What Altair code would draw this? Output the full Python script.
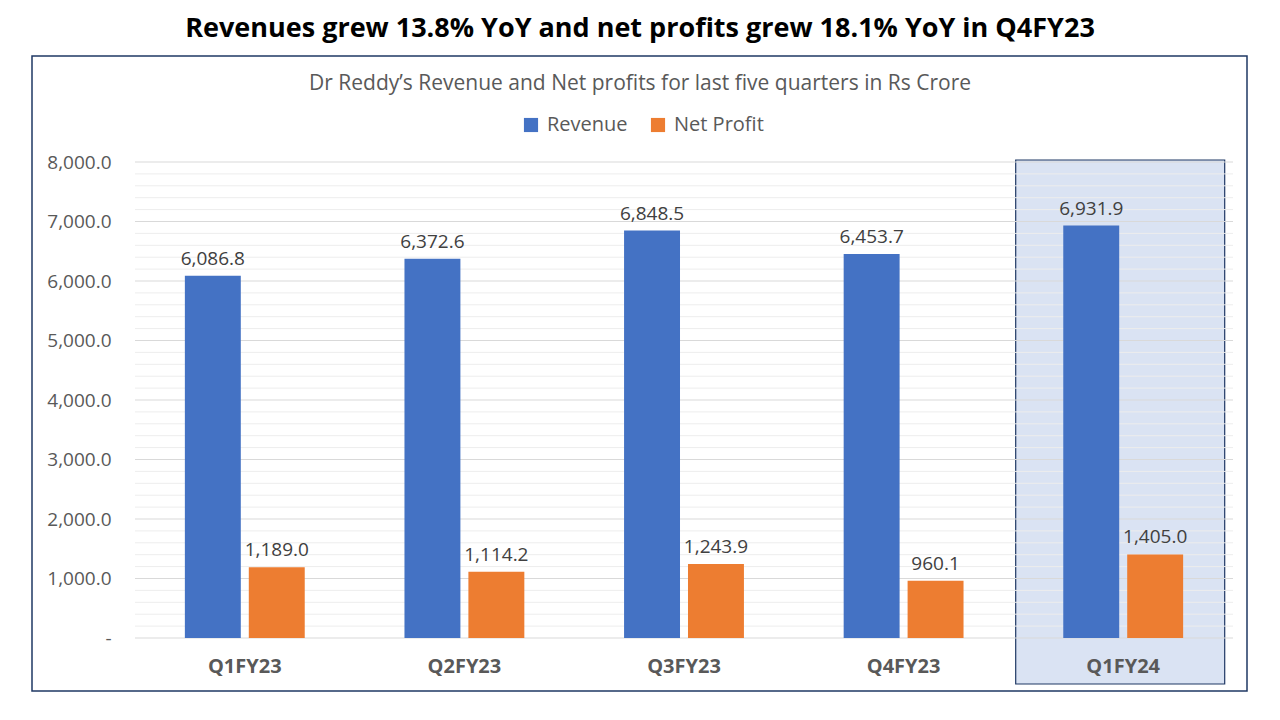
import altair as alt
import pandas as pd

quarters = ["Q1FY23", "Q2FY23", "Q3FY23", "Q4FY23", "Q1FY24"]
revenue = [6086.8, 6372.6, 6848.5, 6453.7, 6931.9]
net_profit = [1189.0, 1114.2, 1243.9, 960.1, 1405.0]
series = ["Revenue", "Net Profit"]
colors = ["#4472C4", "#ED7D31"]
major_ticks = [0, 1000, 2000, 3000, 4000, 5000, 6000, 7000, 8000]
minor_ticks = [200, 400, 600, 800, 1200, 1400, 1600, 1800, 2200, 2400, 2600, 2800,
               3200, 3400, 3600, 3800, 4200, 4400, 4600, 4800, 5200, 5400, 5600, 5800,
               6200, 6400, 6600, 6800, 7200, 7400, 7600, 7800]
highlight = ["Q1FY24"]

title_text = "Revenues grew 13.8% YoY and net profits grew 18.1% YoY in Q4FY23"
subtitle_text = "Dr Reddy\u2019s Revenue and Net profits for last five quarters in Rs Crore"

rows = []
for i, q in enumerate(quarters):
    rows.append({"q": q, "series": series[0], "value": revenue[i]})
    rows.append({"q": q, "series": series[1], "value": net_profit[i]})
df = pd.DataFrame(rows)

W, H = 1098, 476
FONT = "Open Sans"
GREY = "#595959"

xscale = alt.Scale(domain=quarters, paddingInner=0, paddingOuter=0)
yscale = alt.Scale(domain=[0, 8000], nice=False)
offscale = alt.Scale(domain=series, paddingInner=0.125, paddingOuter=0.78)

x_enc = alt.X("q:N", scale=xscale, sort=quarters,
              axis=alt.Axis(title=None, labelFontWeight="bold", labelFontSize=20,
                            labelColor=GREY, labelFont=FONT, labelPadding=18,
                            domain=False, ticks=False, grid=False, labelAngle=0,
                            zindex=2))

y_axis = alt.Axis(title=None, values=major_ticks, grid=False, domain=False,
                  ticks=False, labelFontSize=19, labelColor=GREY,
                  labelFont=FONT, labelPadding=24,
                  labelExpr="datum.value == 0 ? '-' : format(datum.value, ',.1f')")

# highlight box
box = alt.Chart(pd.DataFrame({"q": highlight})).mark_bar(
    width=209, xOffset=-3, fill="#DAE3F3", stroke="#1F3864", strokeWidth=1.2
).encode(x=x_enc, y=alt.value(-2), y2=alt.value(522))

minor = alt.Chart(pd.DataFrame({"v": minor_ticks})).mark_rule(
    color="#EDEDED", strokeWidth=1
).encode(y=alt.Y("v:Q", scale=yscale, axis=y_axis))

major = alt.Chart(pd.DataFrame({"v": major_ticks})).mark_rule(
    color="#D9D9D9", strokeWidth=1
).encode(y=alt.Y("v:Q", scale=yscale, axis=y_axis))

bars = alt.Chart(df).mark_bar().encode(
    x=x_enc,
    xOffset=alt.XOffset("series:N", scale=offscale, sort=series),
    y=alt.Y("value:Q", scale=yscale, axis=y_axis),
    color=alt.Color("series:N", sort=series,
                    scale=alt.Scale(domain=series, range=colors),
                    legend=alt.Legend(title=None, orient="none", legendX=386, legendY=-47,
                                      direction="horizontal", symbolType="square",
                                      symbolSize=200, symbolStrokeWidth=0,
                                      labelFontSize=20, labelColor=GREY, labelFont=FONT,
                                      labelOffset=6, columnPadding=20)),
)

labels = alt.Chart(df).transform_calculate(
    label="format(datum.value, ',.1f')"
).mark_text(baseline="bottom", dy=-7, fontSize=19, color="#404040", font=FONT).encode(
    x=x_enc,
    xOffset=alt.XOffset("series:N", scale=offscale, sort=series),
    y=alt.Y("value:Q", scale=yscale, axis=y_axis),
    text="label:N",
)

title = alt.Chart(pd.DataFrame({"t": [title_text]})).mark_text(
    fontSize=27, fontWeight="bold", font=FONT, color="black", align="center", baseline="middle"
).encode(x=alt.value(640 - 135), y=alt.value(29 - 162), text="t:N")

sub = alt.Chart(pd.DataFrame({"t": [subtitle_text]})).mark_text(
    fontSize=21, font=FONT, color=GREY, align="center", baseline="middle"
).encode(x=alt.value(640 - 135), y=alt.value(84 - 162), text="t:N")

frame = alt.Chart(pd.DataFrame({"t": [0]})).mark_rect(
    fillOpacity=0, stroke="#1F3864", strokeWidth=1.5
).encode(x=alt.value(32 - 135), x2=alt.value(1247 - 135),
         y=alt.value(56 - 162), y2=alt.value(691 - 162))

chart = alt.layer(frame, box, minor, major, bars, labels, title, sub).properties(
    width=W, height=H,
    background="white",
    autosize=alt.AutoSizeParams(type="none"),
    padding={"left": 127, "top": 154, "right": 30, "bottom": 60},
).configure_view(strokeWidth=0, stroke="transparent")

chart.save("out.html", embed_options={"renderer": "svg", "actions": False})
